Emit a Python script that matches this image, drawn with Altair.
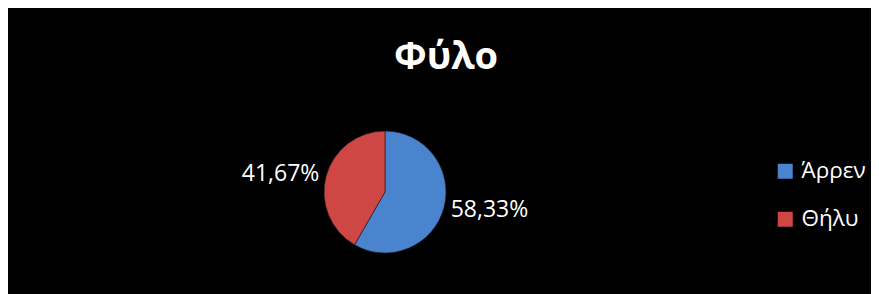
import altair as alt
import pandas as pd

title_text = "Φύλο"
categories = ["Άρρεν", "Θήλυ"]
values = [58.33, 41.67]
colors = ["#4A84CF", "#CF4745"]
labels = [f"{v:.2f}%".replace(".", ",") for v in values]

df = pd.DataFrame({
    "cat": categories,
    "value": values,
    "label": labels,
    "ord": list(range(len(categories))),
})

CX, CY = 377, 184
FONT = "Open Sans"

base = alt.Chart(df).encode(
    theta=alt.Theta("value:Q", stack=True),
    order=alt.Order("ord:Q"),
)

arc = base.mark_arc(outerRadius=61, stroke="#1a1a1a", strokeWidth=0.6).encode(
    x=alt.value(CX),
    y=alt.value(CY),
    color=alt.Color(
        "cat:N",
        scale=alt.Scale(domain=categories, range=colors),
        legend=alt.Legend(
            title=None,
            orient="none",
            legendX=766,
            legendY=152,
            symbolType="square",
            symbolSize=225,
            symbolStrokeWidth=0,
            labelFontSize=22.5,
            labelFont=FONT,
            labelColor="white",
            labelOffset=5,
            rowPadding=25,
            padding=0,
        ),
    ),
)

text = base.mark_text(radius=106, thetaOffset=-0.09, fontSize=23, font=FONT,
                      fill="white", align="center", baseline="middle").encode(
    x=alt.value(CX),
    y=alt.value(CY),
    text="label:N",
)

title = alt.Chart(pd.DataFrame({"t": [title_text]})).mark_text(
    fontSize=38, font=FONT, fontWeight="bold", fill="white",
    align="center", baseline="alphabetic",
).encode(x=alt.value(438), y=alt.value(61), text="t:N")

chart = alt.layer(arc, text, title).properties(
    width=863,
    height=286,
    background="black",
    padding=0,
    autosize=alt.AutoSizeParams(type="fit", contains="padding"),
).configure_view(stroke=None)

chart.save("out.html", embed_options={"renderer": "svg", "actions": False})
